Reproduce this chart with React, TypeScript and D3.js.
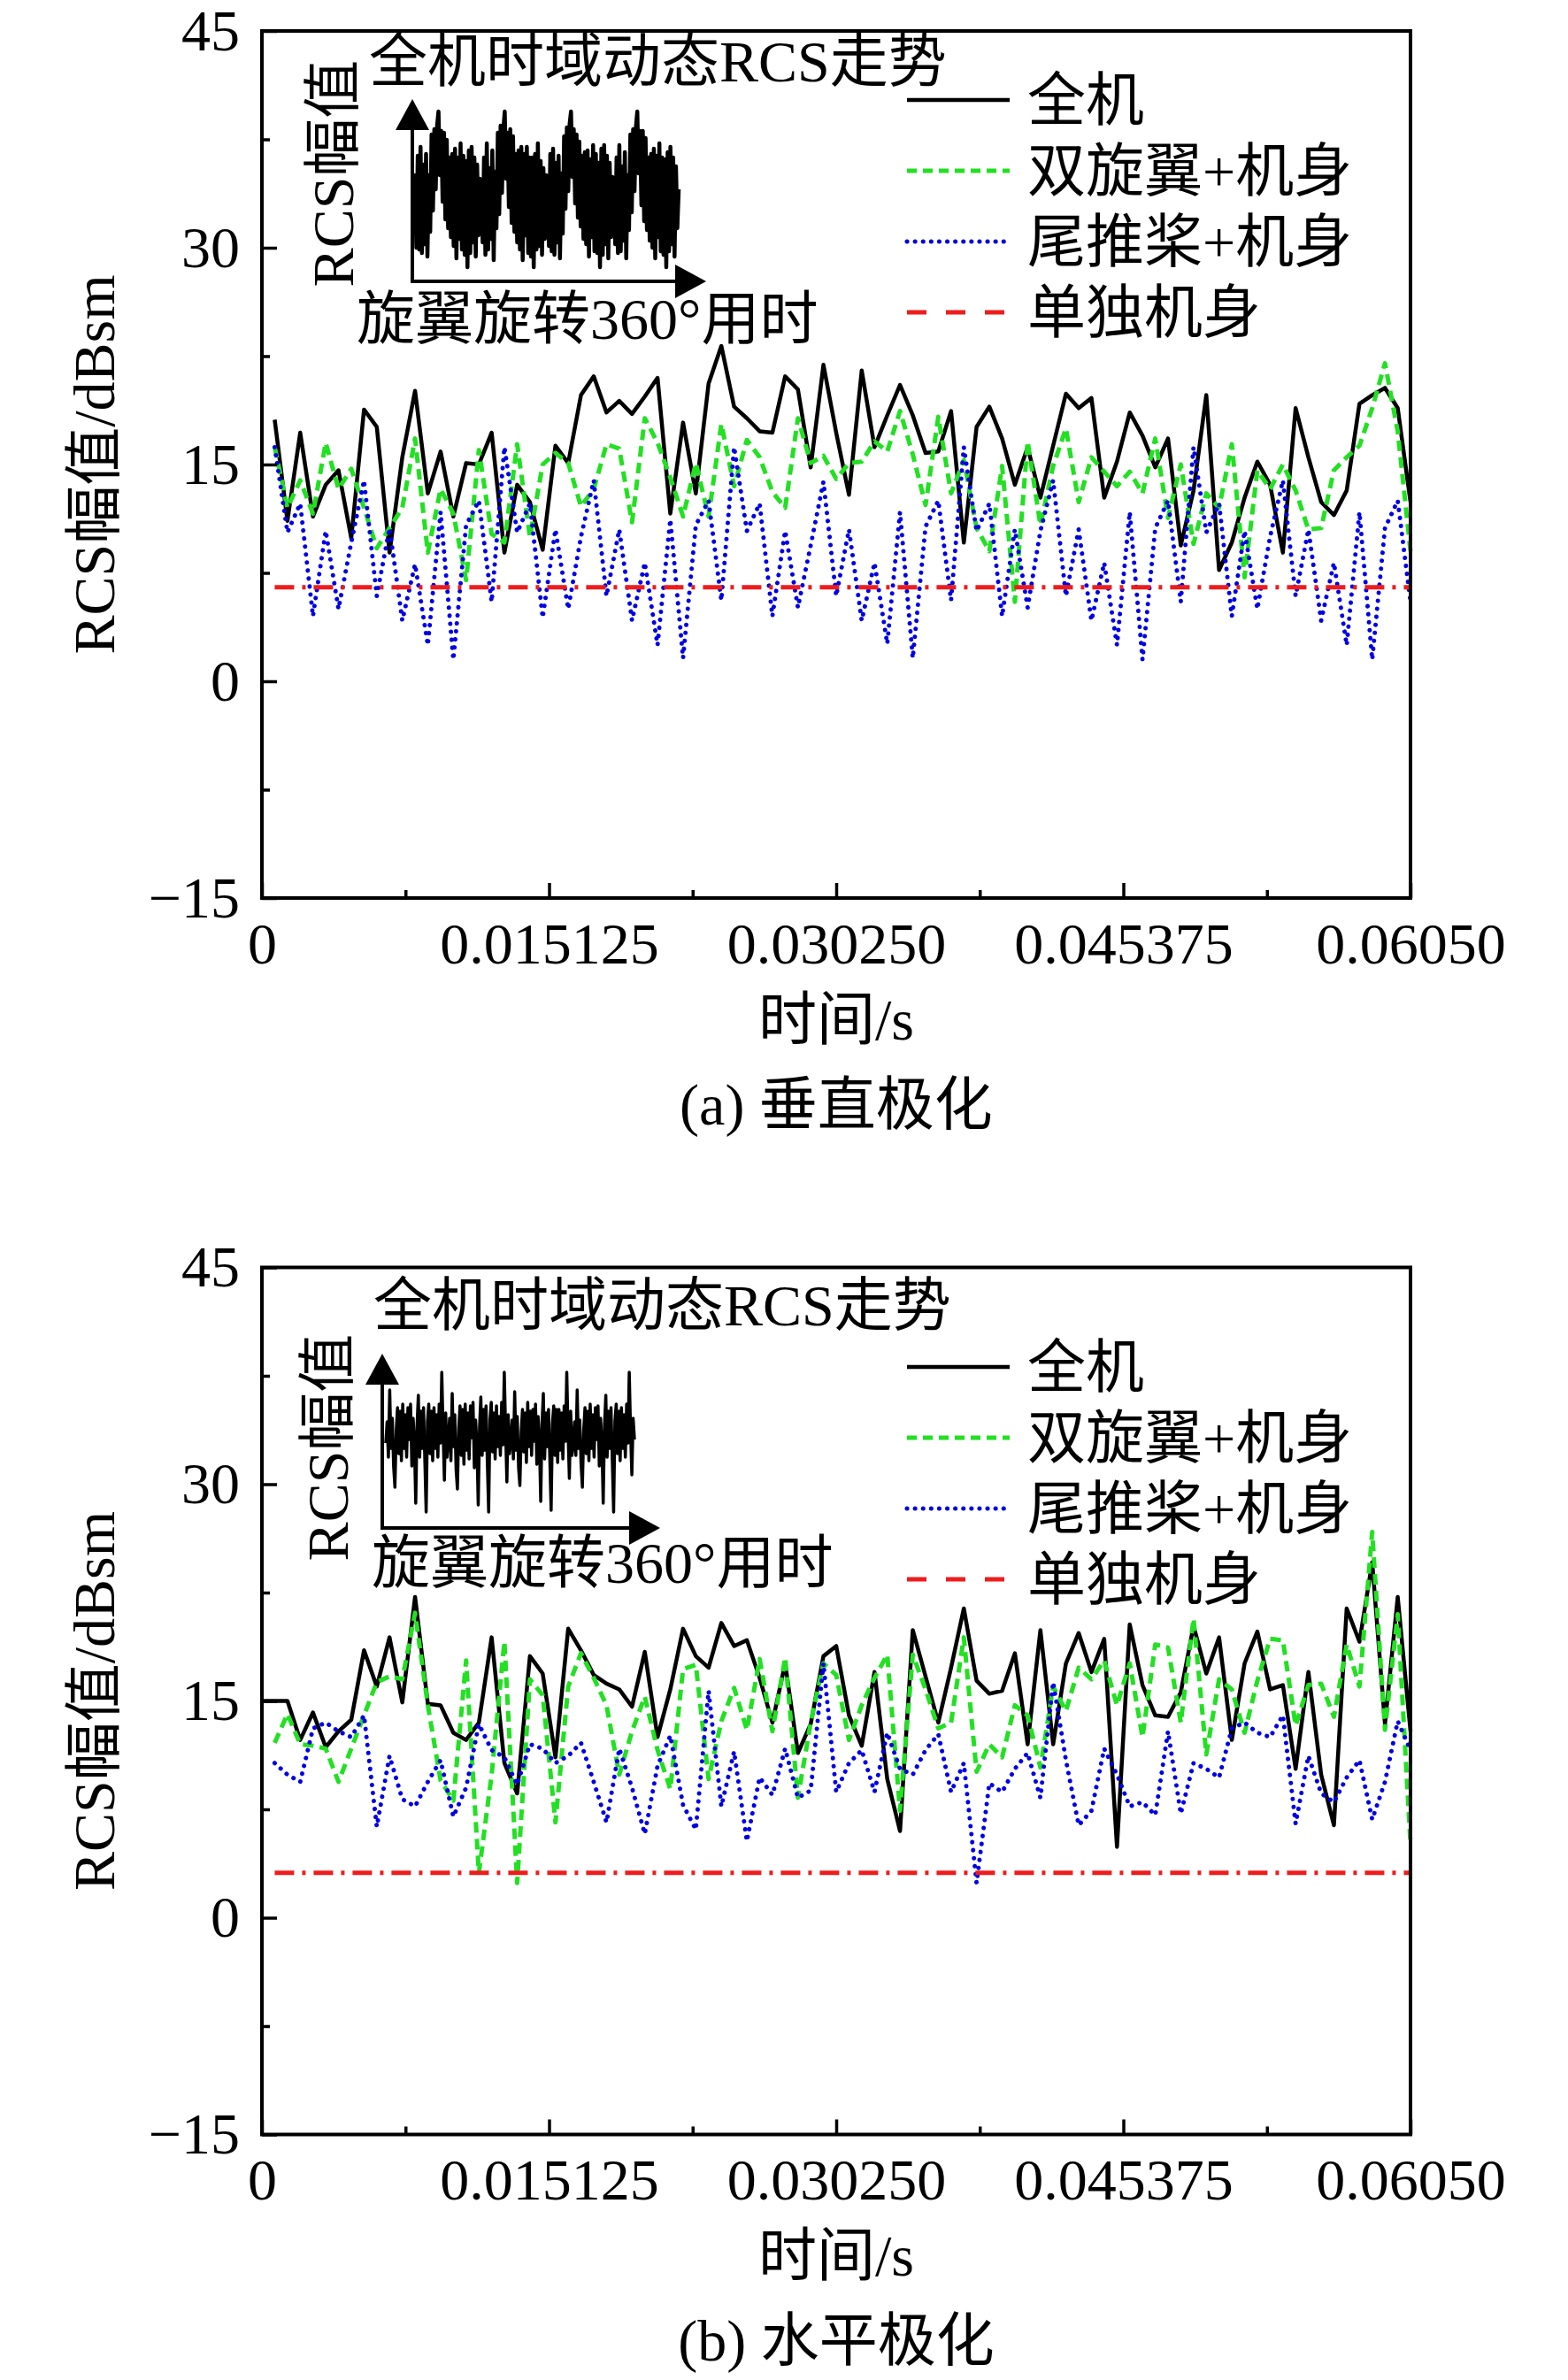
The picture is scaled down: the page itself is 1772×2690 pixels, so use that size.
import React, { useEffect, useRef } from 'react';
import * as d3 from 'd3';

const width = 1772;
const height = 2690;
const font = "'Liberation Serif', 'Times New Roman', 'Noto Sans CJK SC', serif";

const timeEnd = 0.0605;
const sampleCount = 90;

const xMajor = [0, 0.015125, 0.03025, 0.045375, 0.0605];
const xMajorLabels = ['0', '0.015125', '0.030250', '0.045375', '0.06050'];
const xMinor = [0.0075625, 0.0226875, 0.0378125, 0.0529375];
const yMajor = [-15, 0, 15, 30, 45];
const yMinor = [-7.5, 7.5, 22.5, 37.5];

const seriesNames = ['全机', '双旋翼+机身', '尾推桨+机身', '单独机身'];

// (a) vertical polarisation
const fullA = [
  18.1, 11.1, 17.2, 11.4, 13.6, 14.6, 9.9, 18.8, 17.6, 8.9,
  15.5, 20.1, 13.0, 15.9, 11.4, 15.1, 15.0, 17.2, 8.9, 13.6,
  12.4, 9.1, 16.3, 15.1, 19.8, 21.1, 18.6, 19.4, 18.5, 19.7,
  21.0, 11.6, 17.9, 13.0, 20.6, 23.2, 19.0, 18.2, 17.3, 17.2,
  21.1, 20.2, 14.8, 21.9, 17.2, 12.9, 21.5, 16.2, 18.4, 20.5,
  18.4, 15.8, 15.9, 18.7, 9.6, 17.6, 19.0, 16.8, 13.6, 16.2,
  12.7, 16.3, 19.9, 18.9, 19.6, 12.7, 15.2, 18.6, 17.0, 14.8,
  16.8, 9.4, 13.2, 19.8, 7.7, 9.6, 12.7, 15.2, 13.6, 8.9,
  18.9, 15.5, 12.4, 11.5, 13.2, 19.2, 19.8, 20.3, 18.9, 12.4,
];
const rotorA = [
  16.2, 12.0, 13.9, 11.6, 16.5, 13.3, 14.7, 12.0, 9.2, 10.6,
  12.0, 16.8, 8.9, 13.3, 11.6, 7.0, 16.0, 10.2, 9.6, 16.4,
  10.0, 15.0, 15.8, 15.1, 12.1, 13.3, 16.4, 16.1, 11.0, 18.2,
  16.5, 14.1, 11.4, 15.1, 11.4, 17.8, 13.5, 16.7, 15.5, 13.1,
  12.0, 18.2, 15.1, 15.6, 14.0, 15.1, 15.2, 16.6, 15.9, 18.7,
  15.7, 12.2, 18.3, 13.0, 15.3, 10.6, 9.0, 14.9, 5.5, 16.6,
  10.8, 14.9, 17.5, 12.4, 15.5, 14.5, 13.5, 14.5, 13.0, 16.8,
  11.3, 15.0, 9.5, 13.0, 12.0, 16.4, 7.2, 14.6, 13.3, 15.0,
  13.2, 10.5, 10.6, 14.6, 15.5, 16.3, 18.9, 22.0, 17.3, 9.0,
];
const tailA = [
  16.2, 10.3, 12.3, 4.5, 10.4, 5.0, 9.6, 13.9, 5.9, 10.6,
  4.2, 8.1, 2.5, 11.7, 1.5, 10.8, 12.5, 5.5, 16.2, 10.3,
  12.3, 4.4, 10.5, 5.0, 10.0, 13.9, 5.9, 10.5, 4.2, 8.2,
  2.5, 11.2, 1.6, 10.8, 12.5, 5.6, 16.2, 10.4, 12.3, 4.5,
  10.4, 5.1, 9.4, 13.8, 5.9, 10.5, 4.2, 8.2, 2.6, 11.7,
  1.6, 10.7, 12.5, 5.6, 16.2, 10.4, 12.3, 4.5, 10.5, 5.1,
  10.4, 13.9, 5.9, 10.5, 4.2, 8.2, 2.5, 11.7, 1.5, 10.6,
  12.5, 5.5, 16.2, 10.3, 12.3, 4.5, 10.4, 5.0, 10.0, 13.9,
  5.9, 10.5, 4.2, 8.2, 2.5, 11.7, 1.5, 10.6, 12.5, 5.5,
];
const bodyA = 6.5;

// (b) horizontal polarisation; the full-aircraft curve starts at t = 0
const fullB = [
  15.0, 15.0, 15.0, 12.3, 14.2, 11.8, 12.9, 13.7, 18.5, 16.0,
  19.4, 14.9, 22.2, 14.8, 14.7, 12.8, 12.3, 13.5, 19.4, 10.7,
  8.6, 18.1, 16.9, 11.1, 20.0, 18.5, 16.8, 16.2, 15.8, 14.6,
  18.4, 12.5, 15.8, 20.0, 18.1, 17.3, 20.4, 18.8, 19.2, 16.6,
  13.5, 17.6, 11.4, 13.4, 18.1, 18.8, 14.0, 11.9, 17.0, 9.6,
  6.0, 19.9, 16.7, 13.5, 17.3, 21.4, 16.4, 15.5, 15.7, 18.3,
  12.0, 19.9, 12.0, 17.6, 19.7, 17.0, 19.3, 4.9, 20.3, 16.1,
  14.0, 13.9, 15.6, 20.2, 16.9, 19.4, 12.3, 17.6, 19.8, 15.8,
  16.1, 10.3, 17.0, 9.9, 6.4, 21.4, 19.1, 24.6, 13.4, 22.2,
  12.9,
];
const rotorB = [
  12.1, 14.1, 12.0, 11.9, 11.7, 9.4, 11.7, 14.0, 16.3, 16.7,
  16.5, 21.1, 14.7, 9.5, 8.1, 17.8, 3.1, 9.9, 19.1, 2.4,
  16.5, 15.4, 6.6, 16.0, 18.3, 16.6, 14.7, 9.9, 12.9, 15.3,
  11.6, 8.9, 17.2, 17.5, 9.6, 13.6, 15.9, 13.0, 17.9, 12.9,
  18.0, 8.3, 13.5, 17.6, 16.8, 12.3, 14.7, 16.6, 18.2, 7.4,
  18.2, 15.8, 13.1, 13.5, 19.4, 10.1, 12.0, 11.1, 14.7, 14.0,
  10.4, 16.0, 14.3, 17.3, 16.5, 17.8, 14.7, 17.6, 12.5, 18.9,
  18.7, 13.5, 20.7, 11.3, 16.5, 15.8, 12.8, 16.4, 19.3, 19.2,
  13.3, 16.1, 16.2, 13.9, 18.9, 16.0, 26.7, 13.0, 21.0, 5.1,
];
const tailB = [
  10.7, 9.9, 9.4, 13.1, 13.5, 12.9, 12.5, 14.0, 6.3, 11.2,
  8.2, 7.7, 9.4, 10.9, 7.0, 9.0, 13.4, 11.6, 11.1, 9.2,
  12.0, 11.7, 10.7, 11.2, 12.1, 9.4, 6.6, 11.7, 9.0, 5.8,
  10.5, 12.6, 7.8, 6.1, 15.7, 7.7, 11.5, 5.3, 9.7, 8.5,
  11.7, 8.3, 8.8, 17.6, 8.7, 10.7, 11.6, 8.7, 12.8, 10.3,
  9.9, 11.6, 12.7, 8.7, 10.7, 2.4, 9.3, 8.7, 10.3, 11.4,
  8.3, 16.3, 10.9, 6.4, 7.4, 11.7, 9.9, 7.7, 8.0, 7.1,
  12.9, 7.2, 10.7, 10.3, 9.7, 13.1, 13.5, 12.8, 12.5, 14.0,
  6.5, 11.2, 8.6, 8.0, 9.7, 10.9, 6.8, 9.4, 13.6, 11.6,
];
const bodyB = 3.1;

// inset sketches (relative amplitude 0-100), four blade passages each
const insetA = [
  61, 19, 71, 18, 76, 16, 66, 21, 72, 14, 60, 28, 83, 40, 86, 52, 88, 96, 60, 85, 45, 84, 35, 80,
  30, 70, 25, 72, 20, 75, 13, 70, 24, 78, 18, 71, 15, 68, 8, 74, 16, 76, 22, 70, 14, 66, 26, 58,
  55, 22, 70, 15, 78, 18, 64, 24, 74, 12, 62, 30, 84, 38, 88, 50, 86, 96, 58, 84, 42, 86, 33, 82,
  28, 72, 22, 74, 18, 76, 12, 72, 26, 76, 16, 70, 14, 70, 8, 72, 18, 78, 20, 68, 15, 64, 24, 60,
  58, 20, 72, 17, 75, 15, 67, 22, 71, 13, 61, 27, 82, 41, 87, 51, 89, 96, 59, 86, 44, 83, 36, 79,
  31, 71, 24, 73, 21, 74, 14, 69, 25, 77, 17, 72, 16, 67, 8, 75, 15, 77, 21, 71, 13, 67, 25, 59,
  57, 21, 70, 16, 77, 17, 65, 23, 73, 13, 60, 29, 83, 39, 86, 51, 87, 96, 61, 85, 43, 85, 34, 81,
  29, 70, 23, 72, 19, 75, 13, 71, 25, 78, 17, 70, 15, 69, 8, 73, 17, 76, 21, 70, 14, 65, 30, 52,
];
const insetB = [
  48, 60, 40, 78, 45, 62, 35, 23, 55, 68, 42, 66, 38, 70, 45, 64, 40, 68, 50, 70, 35, 62, 48, 14,
  58, 75, 40, 66, 45, 68, 38, 9, 60, 70, 42, 66, 38, 68, 45, 64, 40, 70, 48, 88, 55, 27, 65, 40,
  50, 62, 38, 76, 46, 64, 33, 22, 56, 69, 41, 67, 36, 70, 44, 65, 39, 69, 51, 71, 34, 61, 47, 13,
  57, 74, 41, 67, 44, 69, 37, 9, 61, 71, 43, 65, 39, 69, 46, 63, 41, 71, 47, 88, 56, 26, 64, 42,
  49, 61, 39, 77, 44, 63, 34, 24, 54, 67, 43, 65, 37, 71, 46, 66, 41, 67, 49, 70, 36, 63, 49, 15,
  59, 76, 39, 65, 46, 67, 39, 10, 59, 69, 41, 67, 37, 67, 44, 65, 39, 69, 49, 88, 54, 28, 66, 41,
  47, 60, 41, 78, 45, 61, 36, 23, 55, 68, 42, 66, 38, 70, 45, 64, 40, 68, 50, 69, 35, 62, 48, 14,
  58, 75, 40, 66, 45, 68, 38, 9, 60, 70, 42, 66, 38, 68, 45, 64, 40, 70, 48, 88, 55, 30, 62, 50,
];

const plotLeft = 296;
const plotRight = 1594;

const panels = [
  {
    top: 35, bottom: 1015,
    full: fullA, fullStart: 1, rotor: rotorA, tail: tailA, body: bodyA,
    legendTop: 113,
    inset: {
      signal: insetA, strokeW: 4.5,
      axisX: 466, axisY: 318, tipY: 112, tipX: 798, x0: 469, x1: 767,
      title: [417, 69], yLabel: [376, 196], xLabel: [403, 360],
    },
    caption: '(a) 垂直极化',
  },
  {
    top: 1432.5, bottom: 2412.5,
    full: fullB, fullStart: 0, rotor: rotorB, tail: tailB, body: bodyB,
    legendTop: 1545,
    inset: {
      signal: insetB, strokeW: 3.5,
      axisX: 432, axisY: 1727, tipY: 1530, tipX: 746, x0: 436, x1: 717,
      title: [422, 1475], yLabel: [370, 1636], xLabel: [420, 1766],
    },
    caption: '(b) 水平极化',
  },
];

const lineStyles = [
  { color: '#000000', w: 4.5, dash: '', legendDash: '', cap: 'butt' },
  { color: '#22e022', w: 5, dash: '12 7', legendDash: '11 7', cap: 'butt' },
  { color: '#0000e6', w: 5, dash: '0.1 9', legendDash: '0.1 9', cap: 'round' },
  { color: '#ee1c1c', w: 5, dash: '22 9 4 9', legendDash: '22 22', cap: 'butt' },
];

type Panel = typeof panels[number];

function drawPanel(svg: d3.Selection<SVGSVGElement, unknown, null, undefined>, p: Panel) {
  const step = timeEnd / sampleCount;
  const x = d3.scaleLinear().domain([0, timeEnd]).range([plotLeft, plotRight]);
  const y = d3.scaleLinear().domain([-15, 45]).range([p.bottom, p.top]);
  const g = svg.append('g');

  const line = d3.line<[number, number]>().x(d => x(d[0])).y(d => y(d[1]));
  const pts = (vals: number[], start: number) =>
    vals.map((v, i) => [(i + start) * step, v] as [number, number]);

  const data: [number, number][][] = [
    pts(p.full, p.fullStart),
    pts(p.rotor, 1),
    pts(p.tail, 1),
    [[step, p.body], [timeEnd, p.body]],
  ];

  data.forEach((d, i) => {
    const s = lineStyles[i];
    g.append('path')
      .datum(d)
      .attr('fill', 'none')
      .attr('stroke', s.color)
      .attr('stroke-width', s.w)
      .attr('stroke-dasharray', s.dash || null)
      .attr('stroke-linecap', s.cap)
      .attr('stroke-linejoin', 'round')
      .attr('d', line);
  });

  // frame
  g.append('rect')
    .attr('x', plotLeft)
    .attr('y', p.top)
    .attr('width', plotRight - plotLeft)
    .attr('height', p.bottom - p.top)
    .attr('fill', 'none')
    .attr('stroke', '#000')
    .attr('stroke-width', 4);

  const styleAxis = (a: d3.Selection<SVGGElement, unknown, null, undefined>) => {
    a.select('.domain').remove();
    a.selectAll('line').attr('stroke', '#000').attr('stroke-width', 3.5);
    a.selectAll('text')
      .attr('font-family', font)
      .attr('font-size', 66)
      .attr('fill', '#000');
  };

  const xAxis = g.append('g')
    .attr('transform', `translate(0,${p.bottom})`)
    .call(d3.axisBottom(x).tickValues(xMajor).tickSizeInner(-17).tickSizeOuter(0).tickPadding(27)
      .tickFormat((_, i) => xMajorLabels[i]));
  styleAxis(xAxis);
  const xAxisMinor = g.append('g')
    .attr('transform', `translate(0,${p.bottom})`)
    .call(d3.axisBottom(x).tickValues(xMinor).tickSizeInner(-9).tickSizeOuter(0).tickFormat(() => ''));
  styleAxis(xAxisMinor);

  const yAxis = g.append('g')
    .attr('transform', `translate(${plotLeft},0)`)
    .call(d3.axisLeft(y).tickValues(yMajor).tickSizeInner(-17).tickSizeOuter(0).tickPadding(25)
      .tickFormat(d => (Number(d) < 0 ? '\u2212' + Math.abs(Number(d)) : String(d))));
  styleAxis(yAxis);
  const yAxisMinor = g.append('g')
    .attr('transform', `translate(${plotLeft},0)`)
    .call(d3.axisLeft(y).tickValues(yMinor).tickSizeInner(-9).tickSizeOuter(0).tickFormat(() => ''));
  styleAxis(yAxisMinor);

  const text = (tx: number, ty: number, str: string, anchor = 'start', rotate = false) =>
    g.append('text')
      .attr('x', tx)
      .attr('y', ty)
      .attr('text-anchor', anchor)
      .attr('dominant-baseline', 'central')
      .attr('font-family', font)
      .attr('font-size', 66)
      .attr('fill', '#000')
      .attr('transform', rotate ? `rotate(-90,${tx},${ty})` : null)
      .text(str);

  const midX = (plotLeft + plotRight) / 2;
  text(106, (p.top + p.bottom) / 2, 'RCS幅值/dBsm', 'middle', true);
  text(midX, p.bottom + 137, '时间/s', 'middle');
  text(midX, p.bottom + 233, p.caption, 'middle');

  // legend
  seriesNames.forEach((name, i) => {
    const s = lineStyles[i];
    const ly = p.legendTop + i * 80;
    g.append('line')
      .attr('x1', 1025).attr('x2', 1141)
      .attr('y1', ly).attr('y2', ly)
      .attr('stroke', s.color)
      .attr('stroke-width', s.w)
      .attr('stroke-dasharray', s.legendDash || null)
      .attr('stroke-linecap', s.cap);
    text(1161, ly, name);
  });

  // inset sketch
  const ins = p.inset;
  const ix = d3.scaleLinear().domain([0, ins.signal.length - 1]).range([ins.x0, ins.x1]);
  const iy = d3.scaleLinear().domain([0, 100]).range([ins.axisY, ins.axisY - 200]);
  g.append('path')
    .datum(ins.signal)
    .attr('fill', 'none')
    .attr('stroke', '#000')
    .attr('stroke-width', ins.strokeW)
    .attr('stroke-linejoin', 'round')
    .attr('d', d3.line<number>().x((_, i) => ix(i)).y(d => iy(d)));

  const head = 35;
  const half = 19;
  g.append('path')
    .attr('d', `M${ins.axisX},${ins.tipY + head - 2}V${ins.axisY}H${ins.tipX - head + 2}`)
    .attr('fill', 'none')
    .attr('stroke', '#000')
    .attr('stroke-width', 4);
  g.append('path')
    .attr('d', `M${ins.axisX},${ins.tipY}L${ins.axisX - half},${ins.tipY + head}L${ins.axisX + half},${ins.tipY + head}Z`)
    .attr('fill', '#000');
  g.append('path')
    .attr('d', `M${ins.tipX},${ins.axisY}L${ins.tipX - head},${ins.axisY - half}L${ins.tipX - head},${ins.axisY + half}Z`)
    .attr('fill', '#000');

  text(ins.title[0], ins.title[1], '全机时域动态RCS走势');
  text(ins.yLabel[0], ins.yLabel[1], 'RCS幅值', 'middle', true);
  text(ins.xLabel[0], ins.xLabel[1], '旋翼旋转360°用时');
}

export default function App() {
  const ref = useRef<SVGSVGElement>(null);

  useEffect(() => {
    document.body.style.margin = '0';
    const svg = d3.select(ref.current as SVGSVGElement);
    svg.selectAll('*').remove();
    svg.append('rect').attr('width', width).attr('height', height).attr('fill', '#fff');
    panels.forEach(p => drawPanel(svg, p));
  }, []);

  return <svg ref={ref} width={width} height={height} style={{ display: 'block' }} />;
}
